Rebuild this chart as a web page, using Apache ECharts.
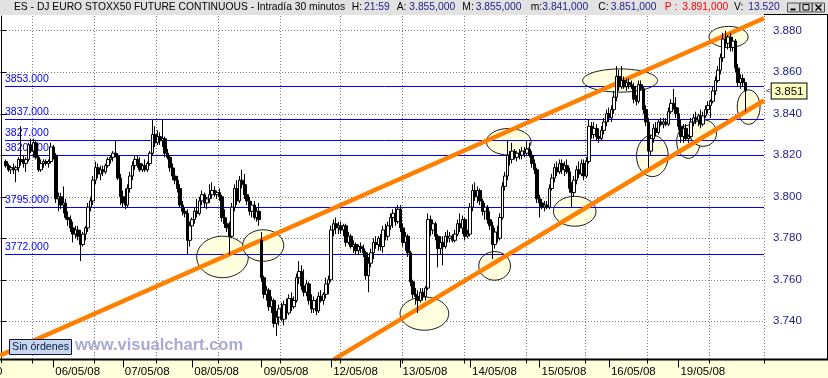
<!DOCTYPE html>
<html><head><meta charset="utf-8">
<script src="https://cdn.jsdelivr.net/npm/echarts@6/dist/echarts.min.js"></script>
<style>html,body{margin:0;padding:0;background:#fff}#c{width:828px;height:378px}</style>
</head><body><div id="c"></div>
<script>
// ---- 30-minute bars, one array per session: [open, high, low, close]
const day0505 = [[3817,3818,3814,3815],[3815,3816,3812,3813],[3813,3815,3811,3814],[3814,3816,3811,3813],[3813,3815,3807,3814],[3814,3819,3812,3818],[3818,3834,3815,3817],[3817,3820,3814,3816],[3816,3819,3812,3818],[3818,3826,3817,3825],[3825,3828,3821,3822],[3822,3828,3819,3826],[3826,3827,3818,3819],[3819,3820,3812,3813],[3813,3818,3812,3816],[3816,3818,3814,3817],[3817,3818,3815,3816],[3816,3818,3814,3817],[3817,3826,3816,3824]];
const day0605 = [[3824,3825,3818,3820],[3820,3821,3797,3799],[3799,3802,3793,3800],[3800,3802,3794,3796],[3796,3805,3792,3797],[3797,3799,3789,3790],[3790,3793,3786,3789],[3789,3791,3783,3785],[3785,3788,3778,3782],[3782,3786,3780,3784],[3784,3786,3779,3781],[3781,3784,3769,3777],[3777,3783,3776,3782],[3782,3786,3779,3785],[3785,3797,3783,3795],[3795,3800,3793,3798],[3798,3810,3796,3808],[3808,3817,3806,3814],[3814,3816,3809,3811],[3811,3815,3808,3813],[3813,3815,3810,3812],[3812,3816,3811,3815],[3815,3819,3814,3818],[3818,3820,3816,3819],[3819,3822,3817,3821],[3821,3827,3819,3820],[3820,3821,3808,3809],[3809,3811,3796,3800]];
const day0705 = [[3800,3803,3795,3797],[3797,3804,3794,3796],[3796,3806,3795,3804],[3804,3812,3802,3810],[3810,3817,3808,3815],[3815,3820,3813,3818],[3818,3820,3814,3816],[3816,3819,3812,3813],[3813,3816,3812,3815],[3815,3818,3812,3813],[3813,3817,3812,3816],[3816,3822,3815,3821],[3821,3837,3820,3830],[3830,3834,3824,3826],[3826,3832,3825,3829],[3829,3831,3825,3827],[3827,3837,3824,3828],[3828,3829,3819,3821],[3821,3823,3818,3819],[3819,3820,3812,3814],[3814,3816,3808,3810],[3810,3814,3806,3808],[3808,3810,3802,3804],[3804,3806,3795,3796],[3796,3798,3791,3793],[3793,3795,3790,3792],[3792,3794,3772,3779],[3779,3788,3776,3786]];
const day0805 = [[3786,3790,3784,3789],[3789,3795,3787,3793],[3793,3799,3790,3792],[3792,3800,3791,3798],[3798,3803,3796,3801],[3801,3802,3795,3797],[3797,3800,3794,3799],[3799,3806,3797,3801],[3801,3807,3799,3803],[3803,3805,3800,3801],[3801,3803,3799,3802],[3802,3804,3798,3800],[3800,3801,3788,3790],[3790,3794,3785,3787],[3787,3790,3783,3785],[3785,3788,3772,3781],[3781,3797,3780,3795],[3795,3806,3793,3804],[3804,3808,3796,3798],[3798,3810,3797,3808],[3808,3813,3804,3806],[3806,3811,3799,3801],[3801,3806,3796,3798],[3798,3800,3791,3793],[3793,3798,3790,3796],[3796,3798,3789,3790],[3790,3795,3788,3793],[3793,3797,3786,3789]];
const day0905 = [[3779,3783,3759,3761],[3761,3762,3751,3753],[3753,3757,3750,3755],[3755,3756,3745,3747],[3747,3752,3744,3750],[3750,3751,3737,3739],[3739,3745,3733,3742],[3742,3748,3738,3746],[3746,3749,3740,3741],[3741,3750,3738,3748],[3748,3751,3741,3744],[3744,3753,3743,3751],[3751,3754,3745,3747],[3747,3752,3746,3750],[3750,3763,3749,3761],[3761,3769,3758,3764],[3764,3767,3755,3757],[3757,3765,3752,3754],[3754,3760,3752,3758],[3758,3759,3748,3750],[3750,3753,3744,3746],[3746,3752,3744,3750],[3750,3751,3743,3745],[3745,3754,3744,3752],[3752,3755,3749,3750],[3750,3754,3748,3753],[3753,3761,3751,3758],[3758,3762,3753,3760]];
const day1205 = [[3760,3786,3759,3784],[3784,3789,3781,3787],[3787,3790,3782,3785],[3785,3788,3782,3786],[3786,3788,3782,3784],[3784,3787,3781,3786],[3786,3787,3776,3778],[3778,3783,3777,3781],[3781,3782,3775,3776],[3776,3779,3773,3777],[3777,3778,3772,3774],[3774,3777,3772,3776],[3776,3778,3773,3775],[3775,3777,3771,3773],[3773,3774,3760,3762],[3762,3771,3754,3768],[3768,3775,3766,3773],[3773,3780,3770,3778],[3778,3781,3775,3777],[3777,3781,3774,3780],[3780,3782,3774,3776],[3776,3786,3773,3784],[3784,3787,3779,3781],[3781,3788,3779,3786],[3786,3792,3784,3790],[3790,3794,3785,3792],[3792,3795,3786,3788],[3788,3796,3787,3794]];
const day1305 = [[3794,3796,3783,3785],[3785,3787,3776,3778],[3778,3783,3774,3781],[3781,3782,3771,3773],[3773,3774,3757,3759],[3759,3760,3751,3753],[3753,3756,3748,3752],[3752,3755,3744,3750],[3750,3756,3749,3754],[3754,3756,3750,3752],[3752,3757,3750,3756],[3756,3792,3755,3789],[3789,3791,3781,3784],[3784,3789,3782,3787],[3787,3788,3779,3781],[3781,3782,3766,3775],[3775,3781,3772,3778],[3778,3781,3767,3776],[3776,3783,3775,3781],[3781,3784,3778,3780],[3780,3783,3778,3781],[3781,3782,3778,3779],[3779,3784,3778,3782],[3782,3789,3781,3787],[3787,3792,3783,3785],[3785,3791,3782,3789],[3789,3790,3779,3781],[3781,3784,3780,3782]];
const day1405 = [[3782,3797,3781,3795],[3795,3806,3793,3803],[3803,3807,3798,3800],[3800,3805,3797,3803],[3803,3804,3796,3798],[3798,3799,3791,3793],[3793,3797,3789,3795],[3795,3796,3787,3789],[3789,3793,3784,3786],[3786,3788,3770,3777],[3777,3785,3775,3783],[3783,3786,3778,3780],[3780,3792,3779,3790],[3790,3807,3789,3805],[3805,3812,3803,3810],[3810,3827,3808,3820],[3820,3822,3815,3818],[3818,3826,3816,3822],[3822,3823,3818,3819],[3819,3822,3817,3821],[3821,3823,3818,3820],[3820,3824,3818,3822],[3822,3824,3819,3821],[3821,3827,3820,3823],[3823,3826,3819,3820],[3820,3822,3814,3816],[3816,3818,3811,3813],[3813,3814,3797,3799]];
const day1505 = [[3799,3801,3790,3797],[3797,3799,3794,3795],[3795,3798,3793,3796],[3796,3798,3794,3795],[3795,3806,3794,3804],[3804,3811,3803,3809],[3809,3816,3807,3814],[3814,3817,3810,3812],[3812,3818,3811,3816],[3816,3818,3811,3813],[3813,3817,3810,3815],[3815,3818,3811,3812],[3812,3814,3802,3804],[3804,3807,3795,3802],[3802,3810,3800,3808],[3808,3815,3806,3813],[3813,3817,3809,3811],[3811,3818,3810,3816],[3816,3818,3808,3810],[3810,3819,3809,3817],[3817,3837,3816,3834],[3834,3836,3828,3830],[3830,3836,3828,3833],[3833,3835,3827,3829],[3829,3833,3826,3828],[3828,3834,3827,3832],[3832,3838,3830,3836],[3836,3842,3834,3840]];
const day1605 = [[3840,3843,3836,3838],[3838,3844,3836,3842],[3842,3851,3840,3848],[3848,3863,3846,3858],[3858,3861,3851,3853],[3853,3863,3852,3856],[3856,3858,3852,3853],[3853,3857,3851,3855],[3855,3857,3852,3854],[3854,3856,3852,3853],[3853,3855,3845,3847],[3847,3849,3844,3846],[3846,3856,3845,3854],[3854,3856,3851,3852],[3852,3853,3840,3842],[3842,3844,3834,3836],[3836,3838,3814,3822],[3822,3830,3820,3828],[3828,3835,3826,3833],[3833,3836,3829,3831],[3831,3837,3830,3836],[3836,3838,3834,3835],[3835,3838,3833,3836],[3836,3838,3834,3835],[3835,3843,3834,3841],[3841,3847,3840,3845],[3845,3852,3842,3843],[3843,3848,3838,3840]];
const day1905 = [[3840,3843,3832,3834],[3834,3837,3826,3829],[3829,3835,3826,3833],[3833,3835,3827,3828],[3828,3830,3826,3829],[3829,3838,3828,3836],[3836,3840,3834,3838],[3838,3841,3835,3837],[3837,3840,3834,3839],[3839,3842,3833,3835],[3835,3841,3834,3839],[3839,3844,3838,3842],[3842,3846,3840,3844],[3844,3847,3838,3846],[3846,3853,3845,3851],[3851,3858,3849,3856],[3856,3863,3855,3861],[3861,3869,3859,3867],[3867,3879,3865,3876],[3876,3880,3872,3874],[3874,3878,3871,3877],[3877,3879,3870,3872],[3872,3877,3870,3875],[3875,3876,3860,3862],[3862,3864,3853,3855],[3855,3859,3852,3857],[3857,3859,3853,3855],[3855,3855,3841,3851]];
const sessionNames = ['05/05/08','06/05/08','07/05/08','08/05/08','09/05/08','12/05/08','13/05/08','14/05/08','15/05/08','16/05/08','19/05/08'];
const sessions = [day0505,day0605,day0705,day0805,day0905,day1205,day1305,day1405,day1505,day1605,day1905];

// horizontal support / resistance levels
const levels = [3853, 3837, 3827, 3820, 3795, 3772];
// trend lines: [slot, price] end points
const upperTrend = [[-0.5, 3723.5], [307.5, 3886.0]];
const lowerTrend = [[134, 3721.5], [307.5, 3846.4]];
// highlighted zones: [slot, price, half-width in slots, half-height in price]
const ellipses = [
  [89.2, 3771.0, 10.4, 10.0], [105.6, 3776.5, 8.3, 7.6], [170.6, 3743.7, 9.8, 8.0],
  [198.9, 3766.7, 6.4, 6.9], [231.2, 3793.0, 8.6, 7.2], [204.6, 3826.5, 9.0, 6.4],
  [249.5, 3856.0, 15.1, 5.6], [262.5, 3819.7, 6.4, 10.0], [277.0, 3826.5, 4.7, 8.0],
  [283.0, 3830.7, 5.4, 6.4], [293.2, 3877.0, 7.9, 5.1], [301.3, 3843.2, 4.6, 8.3]
];
// header texts
const headerTitle = 'ES - DJ EURO STOXX50 FUTURE CONTINUOUS - Intradía 30 minutos';
const headerLabels = ['H:', 'A:', 'M:', 'm:', 'C:', 'P :', 'V:'];
const headerValues = ['21:59', '3.855,000', '3.855,000', '3.841,000', '3.851,000', '3.891,000', '13.520'];

// ---- layout / style constants
const FONT = 'Liberation Sans, Arial, sans-serif';
const NAVY = '#1c1c8a';
const SLOTS_BEFORE = 2, SLOTS_AFTER = 7, BARS_PER_DAY = 28;
const PLOT_W = 764;
const Y_MIN = 3720, Y_MAX = 3887.1;

function hhmm(k) { const m = 8 * 60 + 30 * k; return String(Math.floor(m / 60)).padStart(2, '0') + ':' + String(m % 60).padStart(2, '0'); }
const categories = [], bars = [], dayStart = new Set();
const firstOff = BARS_PER_DAY - day0505.length;
for (let s = 0; s < SLOTS_BEFORE; s++) categories.push(sessionNames[0] + ' ' + hhmm(firstOff - SLOTS_BEFORE + s));
sessions.forEach((arr, di) => {
  const off = di === 0 ? firstOff : 0;
  arr.forEach((b, k) => {
    const idx = categories.length;
    if (k + off === 0) dayStart.add(idx);
    categories.push(sessionNames[di] + ' ' + hhmm(k + off));
    bars.push([idx, b[0], b[3], b[2], b[1]]);
  });
});
for (let s = 0; s < SLOTS_AFTER; s++) categories.push(sessionNames[sessionNames.length - 1] + ' ' + hhmm(BARS_PER_DAY + s));
const nSlots = categories.length;
const slotW = PLOT_W / nSlots;
const gridSlots = new Set();
for (let k = 0; ; k++) { const px = 33.3 + k * 61.45; if (px > PLOT_W) break; gridSlots.add(Math.round(px / slotW)); }
const lastBar = sessions[sessions.length - 1][sessions[sessions.length - 1].length - 1];
const lastClose = lastBar[3];

const dotted = { type: [1, 2], color: '#7a7a7a', width: 1 };
const AX_OFF = -3.3;

// header graphics
const headerX = [[351.7, 364], [396.7, 409.3], [462.3, 475.7], [530.7, 542.3], [598.3, 610.7], [664.7, 682.3], [734, 748.3]];
const g = [];
g.push({ type: 'rect', z: -1, shape: { x: 0, y: 0, width: 828, height: 15 }, style: { fill: '#e2e2e2' } });
g.push({ type: 'rect', z: -1, shape: { x: 0, y: 360, width: 828, height: 18 }, style: { fill: '#ffffdc' } });
g.push({ type: 'text', z: 10, x: 14, y: 7.5, style: { text: headerTitle, fill: '#000', font: '10.3px ' + FONT, verticalAlign: 'middle' } });
headerLabels.forEach((lb, i) => {
  const red = lb.startsWith('P');
  g.push({ type: 'text', z: 10, x: headerX[i][0], y: 7.5, style: { text: lb, fill: red ? '#ff0000' : '#000', font: '10.3px ' + FONT, verticalAlign: 'middle' } });
  g.push({ type: 'text', z: 10, x: headerX[i][1], y: 7.5, style: { text: headerValues[i], fill: red ? '#ff0000' : NAVY, font: '10.3px ' + FONT, verticalAlign: 'middle' } });
});
// window buttons
[787.5, 800, 812.5].forEach((bx, i) => {
  g.push({ type: 'rect', z: 10, shape: { x: bx, y: 3, width: 12, height: 9 }, style: { fill: '#d8d8d8', stroke: '#505050', lineWidth: 1 } });
  if (i === 0) g.push({ type: 'line', z: 11, shape: { x1: bx + 3, y1: 9.5, x2: bx + 8, y2: 9.5 }, style: { stroke: '#000', lineWidth: 2 } });
  if (i === 1) g.push({ type: 'rect', z: 11, shape: { x: bx + 3, y: 4.5, width: 6, height: 5.5 }, style: { fill: 'none', stroke: '#000', lineWidth: 1 } });
  if (i === 2) {
    g.push({ type: 'line', z: 11, shape: { x1: bx + 3, y1: 4.5, x2: bx + 9, y2: 10.5 }, style: { stroke: '#000', lineWidth: 1.5 } });
    g.push({ type: 'line', z: 11, shape: { x1: bx + 9, y1: 4.5, x2: bx + 3, y2: 10.5 }, style: { stroke: '#000', lineWidth: 1.5 } });
  }
});
// borders
g.push({ type: 'line', z: 12, shape: { x1: 0, y1: 359.5, x2: 828, y2: 359.5 }, style: { stroke: '#000', lineWidth: 2 } });
g.push({ type: 'line', z: 12, shape: { x1: 764, y1: 14.5, x2: 828, y2: 14.5 }, style: { stroke: '#000', lineWidth: 1 } });
g.push({ type: 'line', z: 12, shape: { x1: 827.5, y1: 14.5, x2: 827.5, y2: 360 }, style: { stroke: '#000', lineWidth: 1 } });
// bottom-left
g.push({ type: 'rect', z: 20, shape: { x: 9.5, y: 339.5, width: 62, height: 15 }, style: { fill: '#c7d7ee', stroke: '#10103a', lineWidth: 1 } });
g.push({ type: 'text', z: 21, x: 12, y: 347.3, style: { text: 'Sin órdenes', fill: '#0a1a4a', font: '10.7px ' + FONT, verticalAlign: 'middle' } });
g.push({ type: 'text', z: 20, x: 75, y: 345.7, style: { text: 'www.visualchart.com', fill: '#a9aad3', font: 'bold 16.5px ' + FONT, verticalAlign: 'middle' } });
g.push({ type: 'text', z: 20, x: -4, y: 366, style: { text: '0', fill: '#000', font: '11.5px ' + FONT } });

const chart = echarts.init(document.getElementById('c'));
chart.setOption({
  animation: false,
  backgroundColor: '#fff',
  grid: { left: 0, right: 64, top: 16, bottom: 15.2, containLabel: false },
  xAxis: [
    { type: 'category', data: categories, position: 'bottom', offset: AX_OFF, boundaryGap: true,
      axisLine: { show: false },
      axisTick: { show: true, alignWithLabel: true, interval: (i) => dayStart.has(i), length: 8, lineStyle: { color: '#000' } },
      axisLabel: { show: true, interval: (i) => dayStart.has(i), formatter: (v) => v.slice(0, 8), align: 'left', padding: [0, 0, 0, 2], margin: 6, fontSize: 11.5, color: '#000', fontFamily: FONT, hideOverlap: false },
      splitLine: { show: false } },
    { type: 'category', data: categories, position: 'bottom', offset: AX_OFF, boundaryGap: true,
      axisLine: { show: false }, axisLabel: { show: false },
      axisTick: { show: true, alignWithLabel: false, interval: (i) => gridSlots.has(i), length: 4, lineStyle: { color: '#000' } },
      splitLine: { show: true, interval: (i) => gridSlots.has(i), lineStyle: dotted } },
    { type: 'value', min: -0.5, max: nSlots - 0.5, show: false }
  ],
  yAxis: {
    type: 'value', position: 'right', min: Y_MIN, max: Y_MAX, interval: 20, scale: true,
    axisLine: { show: true, lineStyle: { color: '#000', width: 1 } },
    axisTick: { show: true, length: 5, lineStyle: { color: '#000' } },
    axisLabel: { margin: 9, fontSize: 11.5, color: NAVY, fontFamily: FONT, formatter: (v) => (v / 1000).toFixed(3), showMinLabel: false, showMaxLabel: false },
    splitLine: { show: true, showMinLine: false, showMaxLine: false, lineStyle: dotted }
  },
  graphic: g,
  series: [
    { type: 'custom', xAxisIndex: 2, z: 1, silent: true, clip: false,
      data: ellipses, encode: { x: 0, y: 1 },
      renderItem: (params, api) => {
        const c = api.coord([api.value(0), api.value(1)]);
        const s = api.size([api.value(2), api.value(3)]);
        return { type: 'ellipse', shape: { cx: c[0], cy: c[1], rx: s[0], ry: s[1] }, style: { fill: '#ffffe0', stroke: '#1a1a1a', lineWidth: 1 } };
      } },
    { type: 'line', xAxisIndex: 2, z: 2, data: [], silent: true,
      markLine: { symbol: 'none', silent: true, animation: false,
        lineStyle: { color: 'rgba(0,0,255,0)', width: 1, type: 'solid' },
        label: { show: true, position: 'insideStartTop', distance: [5, 2], formatter: (p) => p.value + '.000', color: '#0000ff', fontSize: 10.5, fontFamily: FONT },
        emphasis: { disabled: true },
        data: levels.map((v) => ({ yAxis: v })) } },
    { type: 'line', xAxisIndex: 2, z: 4, data: upperTrend, showSymbol: false, silent: true, lineStyle: { color: '#ff8000', width: 4.5 } },
    { type: 'line', xAxisIndex: 2, z: 4, data: lowerTrend, showSymbol: false, silent: true, lineStyle: { color: '#ff8000', width: 4.5 } },
    { type: 'candlestick', xAxisIndex: 0, z: 5, data: bars, encode: { x: 0, y: [1, 2, 3, 4] }, barWidth: 3,
      itemStyle: { color: '#ffffff', color0: '#000000', borderColor: '#000000', borderColor0: '#000000', borderWidth: 1 },
      markLine: { symbol: 'none', silent: true, animation: false,
        lineStyle: { color: 'rgba(0,0,0,0)', width: 0 },
        label: { show: true, position: 'end', distance: 2,
          formatter: () => '{a|<}{b|' + (lastClose / 1000).toFixed(3) + '}',
          rich: { a: { fontSize: 8, color: '#000', fontFamily: FONT, padding: [0, 1, 0, 0] },
                  b: { fontSize: 11.5, color: '#000', fontFamily: FONT, backgroundColor: '#ffffc0', borderColor: '#000', borderWidth: 1, padding: [2, 3, 1, 3] } } },
        data: [{ yAxis: lastClose }] } }
  ]
});

// crisp, pixel-aligned level lines positioned through the chart's own y scale
const levelLines = levels.map((v) => {
  const y = Math.round(chart.convertToPixel({ yAxisIndex: 0 }, v) - 0.5) + 0.5;
  return { type: 'line', z: 3, silent: true, shape: { x1: 5, y1: y, x2: PLOT_W, y2: y }, style: { stroke: '#0000ff', lineWidth: 1 } };
});
chart.setOption({ graphic: g.concat(levelLines) });
</script></body></html>
